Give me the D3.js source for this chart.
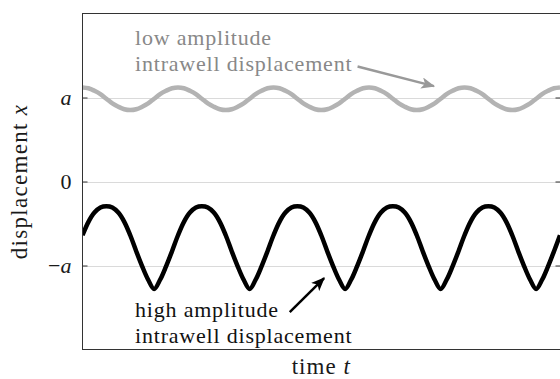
<!DOCTYPE html>
<html>
<head>
<meta charset="utf-8">
<script src="https://cdn.jsdelivr.net/npm/d3@7"></script>
<style>
  html, body { margin: 0; padding: 0; background: #fff; }
  svg { display: block; }
  text { font-family: "Liberation Serif", "DejaVu Serif", serif; }
</style>
</head>
<body>
<svg id="chart" width="560" height="379"></svg>
<script>
// Sample times (one period = 10 time units)
const times = [
  0, 0.625, 1.25, 1.875, 2.5, 3.125, 3.75, 4.375,
  5, 5.625, 6.25, 6.875, 7.5, 8.125, 8.75, 9.375,
  10, 10.625, 11.25, 11.875, 12.5, 13.125, 13.75, 14.375,
  15, 15.625, 16.25, 16.875, 17.5, 18.125, 18.75, 19.375,
  20, 20.625, 21.25, 21.875, 22.5, 23.125, 23.75, 24.375,
  25, 25.625, 26.25, 26.875, 27.5, 28.125, 28.75, 29.375,
  30, 30.625, 31.25, 31.875, 32.5, 33.125, 33.75, 34.375,
  35, 35.625, 36.25, 36.875, 37.5, 38.125, 38.75, 39.375,
  40, 40.625, 41.25, 41.875, 42.5, 43.125, 43.75, 44.375,
  45, 45.625, 46.25, 46.875, 47.5, 48.125, 48.75, 49.375,
  50
];

// Low amplitude oscillation about the well at x = a (units of a)
const lowAmplitude = [
  1.12, 1.11, 1.08, 1.04, 0.985, 0.93, 0.89, 0.86,
  0.85, 0.86, 0.89, 0.93, 0.985, 1.04, 1.08, 1.11,
  1.12, 1.11, 1.08, 1.04, 0.985, 0.93, 0.89, 0.86,
  0.85, 0.86, 0.89, 0.93, 0.985, 1.04, 1.08, 1.11,
  1.12, 1.11, 1.08, 1.04, 0.985, 0.93, 0.89, 0.86,
  0.85, 0.86, 0.89, 0.93, 0.985, 1.04, 1.08, 1.11,
  1.12, 1.11, 1.08, 1.04, 0.985, 0.93, 0.89, 0.86,
  0.85, 0.86, 0.89, 0.93, 0.985, 1.04, 1.08, 1.11,
  1.12, 1.11, 1.08, 1.04, 0.985, 0.93, 0.89, 0.86,
  0.85, 0.86, 0.89, 0.93, 0.985, 1.04, 1.08, 1.11,
  1.12
];

// High amplitude oscillation inside the well at x = -a
const highAmplitude = [
  -0.64, -0.48, -0.37, -0.31, -0.295, -0.31, -0.37, -0.48,
  -0.64, -0.83, -1.01, -1.17, -1.28, -1.17, -1.01, -0.83,
  -0.64, -0.48, -0.37, -0.31, -0.295, -0.31, -0.37, -0.48,
  -0.64, -0.83, -1.01, -1.17, -1.28, -1.17, -1.01, -0.83,
  -0.64, -0.48, -0.37, -0.31, -0.295, -0.31, -0.37, -0.48,
  -0.64, -0.83, -1.01, -1.17, -1.28, -1.17, -1.01, -0.83,
  -0.64, -0.48, -0.37, -0.31, -0.295, -0.31, -0.37, -0.48,
  -0.64, -0.83, -1.01, -1.17, -1.28, -1.17, -1.01, -0.83,
  -0.64, -0.48, -0.37, -0.31, -0.295, -0.31, -0.37, -0.48,
  -0.64, -0.83, -1.01, -1.17, -1.28, -1.17, -1.01, -0.83,
  -0.64
];

const yTickValues = [-1, 0, 1];
const yTickLabels = ["−a", "0", "a"];
const timeDomain = [0, 50];
const dispDomain = [-2, 2];

const FONT = "'Liberation Serif', 'DejaVu Serif', serif";

const svg = d3.select("#chart");
const plotLeft = 82.5, plotRight = 560.5, plotTop = 13.5, plotBottom = 349.5;

const x = d3.scaleLinear().domain(timeDomain).range([plotLeft, 560]);
const y = d3.scaleLinear().domain(dispDomain).range([plotBottom, plotTop]);

const defs = svg.append("defs");
defs.append("clipPath").attr("id", "plotClip")
  .append("rect").attr("x", plotLeft).attr("y", plotTop)
  .attr("width", plotRight - plotLeft).attr("height", plotBottom - plotTop);

// Light horizontal grid at the tick values
svg.append("g").selectAll("line").data(yTickValues).join("line")
  .attr("x1", plotLeft).attr("x2", plotRight)
  .attr("y1", d => Math.round(y(d)) + 0.5).attr("y2", d => Math.round(y(d)) + 0.5)
  .attr("stroke", "#dadada").attr("stroke-width", 1);

const line = d3.line()
  .x((d, i) => x(times[i]))
  .y(d => y(d))
  .curve(d3.curveCatmullRom);

const curves = svg.append("g").attr("clip-path", "url(#plotClip)");
curves.append("path").datum(lowAmplitude)
  .attr("d", line).attr("fill", "none")
  .attr("stroke", "#b3b3b3").attr("stroke-width", 4.5)
  .attr("stroke-linejoin", "round");
curves.append("path").datum(highAmplitude)
  .attr("d", line).attr("fill", "none")
  .attr("stroke", "#000").attr("stroke-width", 4.5)
  .attr("stroke-linejoin", "round");

// Frame
svg.append("rect").attr("x", plotLeft).attr("y", plotTop)
  .attr("width", plotRight - plotLeft).attr("height", plotBottom - plotTop)
  .attr("fill", "none").attr("stroke", "#333").attr("stroke-width", 1);

// Left axis with inward ticks
const yAxis = d3.axisLeft(y).tickValues(yTickValues)
  .tickSize(-5).tickPadding(11)
  .tickFormat(d => yTickLabels[yTickValues.indexOf(d)]);
const gy = svg.append("g").attr("transform", `translate(${plotLeft},0)`).call(yAxis);
gy.attr("font-family", FONT).attr("font-size", 22);
gy.select(".domain").remove();
gy.selectAll(".tick line").attr("stroke", "#333");
gy.selectAll(".tick text")
  .style("font-family", FONT)
  .attr("font-size", 22).attr("fill", "#1a1a1a")
  .each(function (d) {
    const label = yTickLabels[yTickValues.indexOf(d)];
    const t = d3.select(this).text(null);
    if (label.endsWith("a")) {
      if (label.length > 1) t.append("tspan").text(label.slice(0, -1));
      t.append("tspan").attr("font-style", "italic").text("a");
    } else {
      t.text(label);
    }
  });

// Right axis ticks mirrored inward
const gyr = svg.append("g").attr("transform", `translate(${plotRight},0)`)
  .call(d3.axisRight(y).tickValues(yTickValues).tickSize(-5).tickFormat(""));
gyr.select(".domain").remove();
gyr.selectAll(".tick line").attr("stroke", "#333");

// Axis titles
const xt = svg.append("text")
  .style("font-family", FONT)
  .attr("x", (plotLeft + 560) / 2).attr("y", 374)
  .attr("text-anchor", "middle").attr("font-size", 23)
  .attr("letter-spacing", 1).attr("fill", "#1a1a1a");
xt.append("tspan").text("time ");
xt.append("tspan").attr("font-style", "italic").text("t");

const yt = svg.append("text")
  .style("font-family", FONT)
  .attr("transform", `translate(27,${(plotTop + plotBottom) / 2}) rotate(-90)`)
  .attr("text-anchor", "middle").attr("font-size", 23)
  .attr("letter-spacing", 1.3).attr("fill", "#1a1a1a");
yt.append("tspan").text("displacement ");
yt.append("tspan").attr("font-style", "italic").text("x");

// Arrowheads
function arrowHead(id, color) {
  defs.append("marker").attr("id", id)
    .attr("viewBox", "0 0 12 10").attr("refX", 11).attr("refY", 5)
    .attr("markerUnits", "userSpaceOnUse")
    .attr("markerWidth", 14).attr("markerHeight", 11.5)
    .attr("orient", "auto")
    .append("path").attr("d", "M0,0 L12,5 L0,10 L3,5 Z").attr("fill", color);
}
arrowHead("headGray", "#999");
arrowHead("headBlack", "#000");

// Annotations
function annotation(lines, tx, ty, color) {
  const g = svg.append("text").style("font-family", FONT).attr("font-size", 22)
    .attr("letter-spacing", 0.8).attr("fill", color);
  lines.forEach((s, i) => {
    g.append("tspan").attr("x", x(tx)).attr("y", y(ty) + i * 26).text(s);
  });
}
annotation(["low amplitude", "intrawell displacement"], 5.5, 1.625, "#888");
annotation(["high amplitude", "intrawell displacement"], 5.5, -1.613, "#111");

svg.append("line")
  .attr("x1", x(28.8)).attr("y1", y(1.37))
  .attr("x2", x(36.8)).attr("y2", y(1.135))
  .attr("stroke", "#999").attr("stroke-width", 2.5)
  .attr("marker-end", "url(#headGray)");
svg.append("line")
  .attr("x1", x(21.7)).attr("y1", y(-1.555))
  .attr("x2", x(25.3)).attr("y2", y(-1.15))
  .attr("stroke", "#000").attr("stroke-width", 2.5)
  .attr("marker-end", "url(#headBlack)");
</script>
</body>
</html>
